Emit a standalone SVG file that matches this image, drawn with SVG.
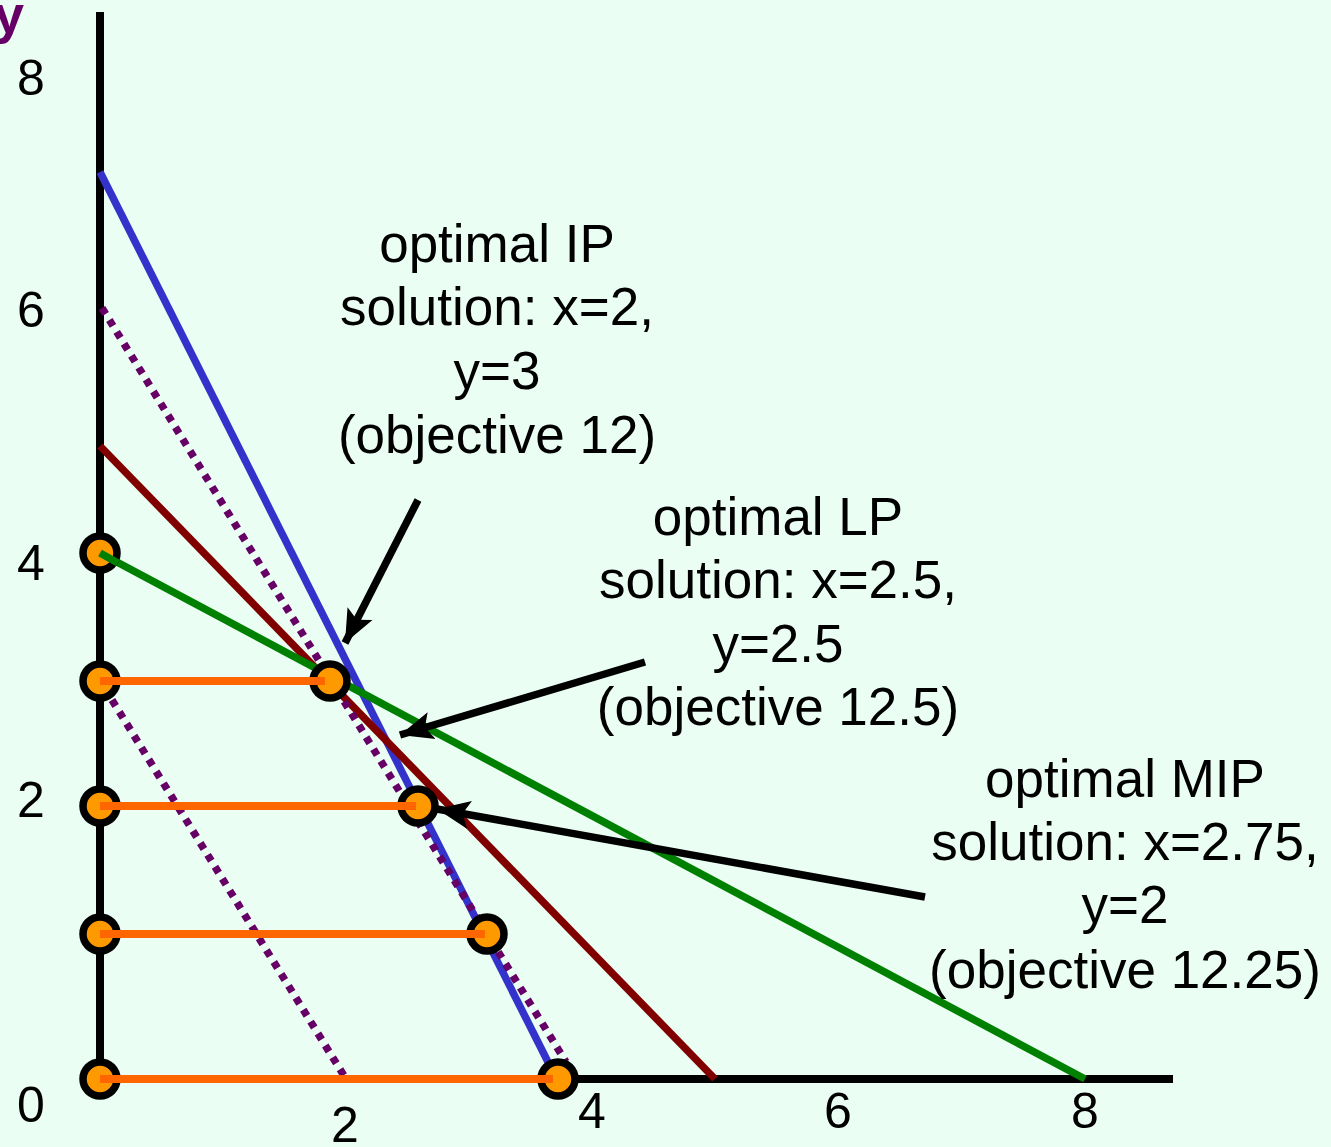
<svg xmlns="http://www.w3.org/2000/svg" width="1331" height="1147" viewBox="0 0 1331 1147">
<style>
.t{font-family:"Liberation Sans",Arial,sans-serif;font-size:53px;fill:#000;text-anchor:middle}
.n{font-family:"Liberation Sans",Arial,sans-serif;font-size:50px;fill:#000;text-anchor:middle}
.ax{stroke:#000;stroke-width:8;fill:none}
.ln{stroke-width:7.5;fill:none}
.dot{stroke:#660066;stroke-width:7.5;stroke-dasharray:7 7;fill:none}
.pt{fill:#FF9900;stroke:#000;stroke-width:7.5}
.seg{stroke:#FF6600;stroke-width:8}
.arr{stroke:#000;stroke-width:7.5;fill:none;marker-end:url(#ah)}
</style>
<defs>
<marker id="ah" markerUnits="userSpaceOnUse" markerWidth="36" markerHeight="36" viewBox="0 0 36 36" refX="33" refY="18" orient="auto">
<path d="M0,4 L33,18 L0,32 L7,18 Z" fill="#000"/>
</marker>
</defs>
<rect width="1331" height="1147" fill="#EBFEF4"/>
<g id="axes">
<line class="ax" x1="100" y1="12" x2="100" y2="1079"/>
<line class="ax" x1="96" y1="1079" x2="1173" y2="1079"/>
</g>
<g id="constraints">
<line class="ln" stroke="#3333CC" x1="100" y1="172" x2="548" y2="1062"/>
<line class="ln" stroke="#800000" x1="100" y1="446" x2="715" y2="1079"/>
<line class="dot" x1="102" y1="308" x2="566" y2="1062"/>
<line class="dot" x1="112" y1="700" x2="346" y2="1079"/>
<line class="ln" stroke="#008000" x1="100" y1="553" x2="1085" y2="1079"/>
</g>
<g id="points">
<circle class="pt" cx="100" cy="553" r="17"/>
<circle class="pt" cx="100" cy="681" r="17"/>
<circle class="pt" cx="330" cy="681" r="17"/>
<circle class="pt" cx="100" cy="806" r="17"/>
<circle class="pt" cx="418" cy="806" r="17"/>
<circle class="pt" cx="100" cy="934" r="17"/>
<circle class="pt" cx="487" cy="934" r="17"/>
<circle class="pt" cx="100" cy="1079" r="17"/>
<circle class="pt" cx="558" cy="1079" r="17"/>
<line class="ln" stroke="#008000" x1="100" y1="553" x2="118" y2="563"/>
</g>
<g id="segments">
<line class="seg" x1="100" y1="681" x2="325" y2="681"/>
<line class="seg" x1="100" y1="806" x2="416" y2="806"/>
<line class="seg" x1="100" y1="934" x2="485" y2="934"/>
<line class="seg" x1="100" y1="1079" x2="553" y2="1079"/>
</g>
<g id="connectors">
<line class="arr" x1="418" y1="500" x2="345" y2="643"/>
<line class="arr" x1="645" y1="662" x2="400" y2="735"/>
<line class="arr" x1="925" y1="897" x2="437" y2="809"/>
</g>
<g id="labels">
<text x="-6" y="33" font-family="Liberation Sans,Arial,sans-serif" font-size="54" font-weight="bold" fill="#660066">y</text>
<text class="n" x="31" y="95">8</text>
<text class="n" x="31" y="327">6</text>
<text class="n" x="31" y="580">4</text>
<text class="n" x="31" y="817">2</text>
<text class="n" x="31" y="1122">0</text>
<text class="n" x="345" y="1142">2</text>
<text class="n" x="592" y="1128">4</text>
<text class="n" x="838" y="1128">6</text>
<text class="n" x="1085" y="1128">8</text>
</g>
<g id="ip-label">
<text class="t" x="497" y="262">optimal IP</text>
<text class="t" x="497" y="325">solution: x=2,</text>
<text class="t" x="497" y="389">y=3</text>
<text class="t" x="497" y="453">(objective 12)</text>
</g>
<g id="lp-label">
<text class="t" x="778" y="535">optimal LP</text>
<text class="t" x="778" y="598">solution: x=2.5,</text>
<text class="t" x="778" y="662">y=2.5</text>
<text class="t" x="778" y="725">(objective 12.5)</text>
</g>
<g id="mip-label">
<text class="t" x="1125" y="797">optimal MIP</text>
<text class="t" x="1125" y="860">solution: x=2.75,</text>
<text class="t" x="1125" y="923">y=2</text>
<text class="t" x="1125" y="988">(objective 12.25)</text>
</g>
</svg>
